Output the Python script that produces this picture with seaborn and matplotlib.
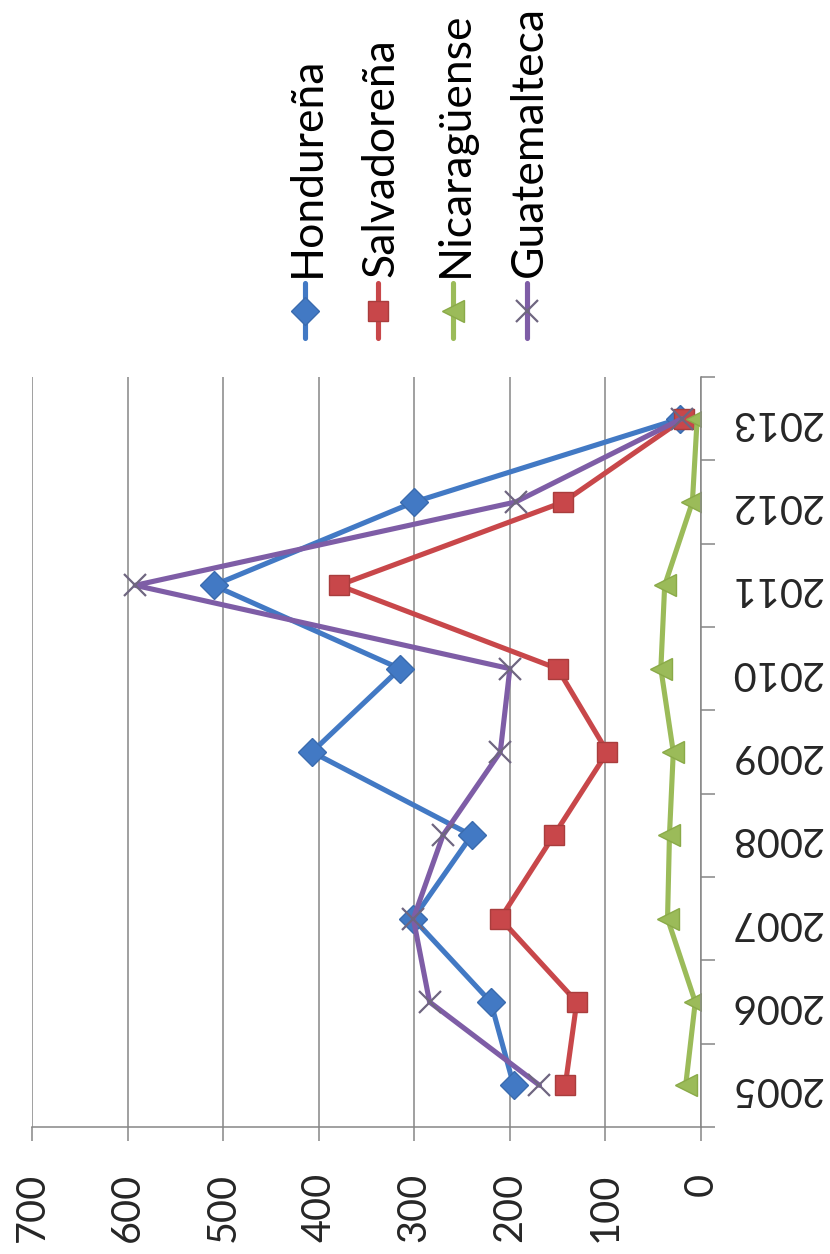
import matplotlib
matplotlib.use("Agg")
import matplotlib.pyplot as plt
from matplotlib.lines import Line2D
import numpy as np
import pandas as pd
import seaborn as sns

# Annual counts by nationality
years = [2005, 2006, 2007, 2008, 2009, 2010, 2011, 2012, 2013]
series_names = ["Hondureña", "Salvadoreña", "Nicaragüense", "Guatemalteca"]
hondurena = [196, 220, 301, 240, 407, 315, 510, 300, 22]
salvadorena = [142, 130, 210, 154, 98, 150, 379, 144, 18]
nicaraguense = [16, 6, 35, 33, 29, 42, 38, 9, 4]
guatemalteca = [169, 284, 301, 270, 210, 200, 592, 194, 20]
value_ticks = [0, 100, 200, 300, 400, 500, 600, 700]

colors = ["#4279C4", "#C8474A", "#9BBB59", "#7E5DA6"]
edge_colors = ["#3A6BAE", "#A93D3D", "#8AAA48", "#6F6680"]
markers = ["D", "s", "<", "x"]
marker_sizes = [14, 15, 16, 16]
grey = "#868686"

sns.set_theme(style="white")
plt.rcParams["font.family"] = ["Lato", "DejaVu Sans"]

W, H = 830, 1254
fig = plt.figure(figsize=(W / 100, H / 100), dpi=100)
ax = fig.add_axes([32 / W, 1 - 1127 / H, (701 - 32) / W, (1127 - 377) / H])

df = pd.DataFrame({
    "año": years * 4,
    "valor": hondurena + salvadorena + nicaraguense + guatemalteca,
    "serie": sum([[n] * len(years) for n in series_names], []),
})


def marker_style(c, e, m, s):
    if m == "x":
        return dict(marker=m, markersize=s, markeredgecolor=e, markeredgewidth=1.6)
    return dict(marker=m, markersize=s, markerfacecolor=c, markeredgecolor=e,
                markeredgewidth=1.0)


for name, c, e, m, s in zip(series_names, colors, edge_colors, markers, marker_sizes):
    sub = df[df["serie"] == name]
    sns.lineplot(data=sub, x="valor", y="año", orient="y", color=c,
                 linewidth=3.7, ax=ax, legend=False, **marker_style(c, e, m, s))

ax.set_xlim(700, 0)
ax.set_ylim(2004.5, 2013.5)
ax.set_xticks(value_ticks, labels=[str(v) for v in value_ticks])
ax.set_yticks(years, labels=[str(y) for y in years])
ax.set_yticks(np.arange(2004.5, 2013.6, 1.0), minor=True)
ax.set_xlabel("")
ax.set_ylabel("")

ax.yaxis.tick_right()
ax.tick_params(axis="y", which="major", length=0, pad=21, labelsize=28.5,
               labelrotation=180, right=True, left=False)
ax.tick_params(axis="y", which="minor", length=10, width=1.1, color=grey,
               right=True, left=False, direction="out")
ax.tick_params(axis="x", which="major", length=10, width=1.1, color=grey,
               direction="out", bottom=True, pad=23, labelsize=28.5, labelrotation=90)

ax.grid(axis="x", color=grey, linewidth=1.1)
ax.grid(axis="y", visible=False)
for side in ["left", "top"]:
    ax.spines[side].set_visible(False)
for side in ["right", "bottom"]:
    ax.spines[side].set_color(grey)
    ax.spines[side].set_linewidth(1.1)


def fx(px):
    return px / W


def fy(py):
    return 1 - py / H


# vertical legend above the plot
legend_x = [305, 378, 453, 527]
for name, c, e, m, s, lx in zip(series_names, colors, edge_colors, markers, marker_sizes, legend_x):
    fig.add_artist(Line2D([fx(lx), fx(lx)], [fy(283), fy(338)], transform=fig.transFigure,
                          color=c, linewidth=3.7))
    fig.add_artist(Line2D([fx(lx)], [fy(311)], transform=fig.transFigure,
                          linestyle="none", **marker_style(c, e, m, s)))
    fig.text(fx(lx + 15), fy(277), name, rotation=90, rotation_mode="anchor",
             ha="left", va="baseline", fontsize=32, color="black")

fig.savefig("out.png", dpi=100)
